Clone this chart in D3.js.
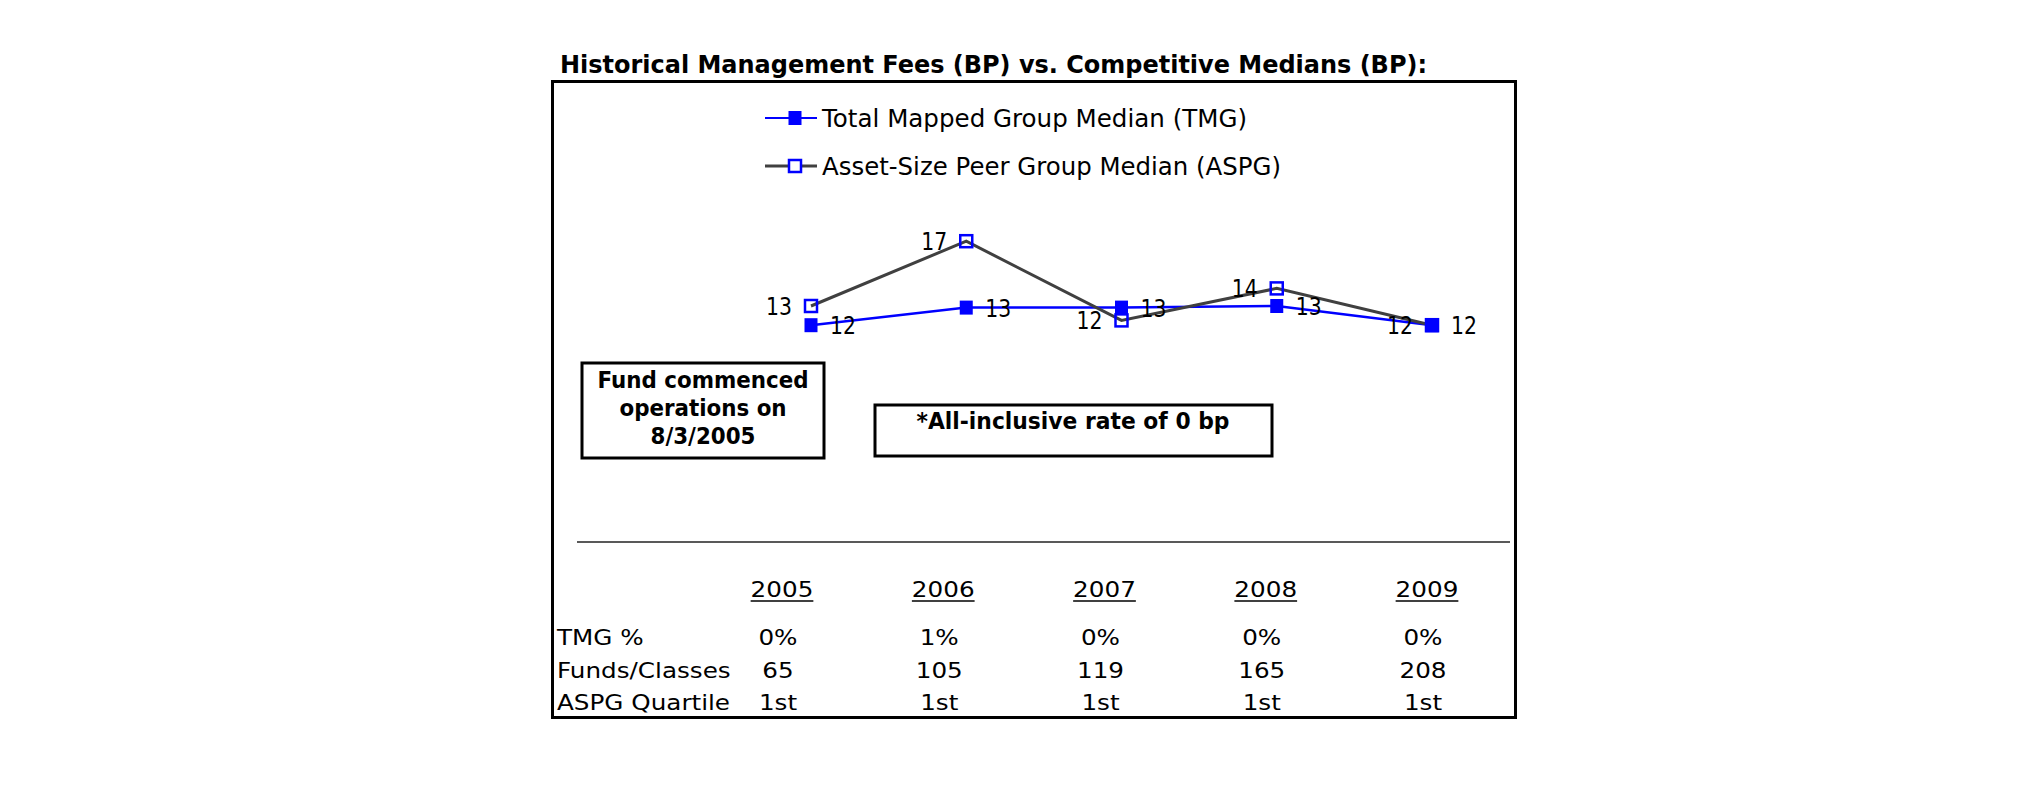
<!DOCTYPE html>
<html><head><meta charset="utf-8">
<script src="https://cdn.jsdelivr.net/npm/d3@7"></script>
<style>body{margin:0;background:#fff} svg{display:block}</style>
</head><body><svg id="c" width="2025" height="806"></svg>
<script>
const years = ["2005","2006","2007","2008","2009"];
const tmgValues = [11.8, 12.9, 12.9, 13.0, 11.8];
const aspgValues = [13.0, 17.05, 12.1, 14.1, 11.8];
const tmgPct = ["0%","1%","0%","0%","0%"];
const fundsClasses = ["65","105","119","165","208"];
const aspgQuartile = ["1st","1st","1st","1st","1st"];
const rowLabels = ["TMG %","Funds/Classes","ASPG Quartile"];
const seriesNames = ["Total Mapped Group Median (TMG)","Asset-Size Peer Group Median (ASPG)"];
const titleText = "Historical Management Fees (BP) vs. Competitive Medians (BP):";
const noteLines = ["Fund commenced","operations on","8/3/2005"];
const rateNote = "*All-inclusive rate of 0 bp";

const FONT = "'DejaVu Sans', Verdana, sans-serif";
const BLUE = "#0000ff", GREY = "#404040";
const svg = d3.select("#c");

function txt(x, y, s, size, weight, k, anchor) {
  const t = svg.append("text").attr("x", x).attr("y", y)
    .attr("font-family", FONT).attr("font-size", size)
    .attr("font-weight", weight || "normal").attr("fill", "#000").text(s);
  const n = t.node().getComputedTextLength();
  const w = n * (k || 1);
  if (k && k !== 1) t.attr("textLength", w).attr("lengthAdjust", "spacingAndGlyphs");
  if (anchor === "middle") t.attr("x", x - w / 2);
  else if (anchor === "end") t.attr("x", x - w);
  return { node: t, w: w, n: n };
}
function fitK(s, size, weight, target) {
  const t = svg.append("text").attr("font-family", FONT).attr("font-size", size)
    .attr("font-weight", weight).text(s);
  const n = t.node().getComputedTextLength(); t.remove();
  return target / n;
}

// title
txt(560, 73, titleText, 24, "bold", fitK(titleText, 24, "bold", 867), "start");

// outer box
svg.append("rect").attr("x", 552.5).attr("y", 81.5).attr("width", 963).attr("height", 636)
  .attr("fill", "none").attr("stroke", "#000").attr("stroke-width", 3);

// scales
const x = d3.scalePoint().domain(years).range([811, 1432]);
const y = d3.scaleLinear().domain([0, 20]).range([514, 194]);
const xt = d3.scalePoint().domain(years).range([780, 1425]);

// legend
const legY = [118, 166];
const legW = [425, 459];
[0, 1].forEach(i => {
  svg.append("line").attr("x1", 765).attr("x2", 817).attr("y1", legY[i]).attr("y2", legY[i])
    .attr("stroke", i === 0 ? BLUE : GREY).attr("stroke-width", i === 0 ? 2 : 3);
  if (i === 0) svg.append("rect").attr("x", 795 - 6.5).attr("y", legY[i] - 7).attr("width", 13).attr("height", 14).attr("fill", BLUE);
  else svg.append("rect").attr("x", 795 - 6).attr("y", legY[i] - 6).attr("width", 12).attr("height", 12)
    .attr("fill", "#fff").attr("stroke", BLUE).attr("stroke-width", 2.5);
  txt(822, legY[i] + 9, seriesNames[i], 24, "normal", fitK(seriesNames[i], 24, "normal", legW[i]), "start");
});

// lines
const line = d3.line().x((d, i) => x(years[i])).y(d => y(d));
svg.append("path").datum(tmgValues).attr("d", line).attr("fill", "none")
  .attr("stroke", BLUE).attr("stroke-width", 2.5);
svg.append("path").datum(aspgValues).attr("d", line).attr("fill", "none")
  .attr("stroke", GREY).attr("stroke-width", 3);

// markers
svg.selectAll(".mt").data(tmgValues).enter().append("rect")
  .attr("x", (d, i) => x(years[i]) - 6.5).attr("y", d => y(d) - 7)
  .attr("width", 13).attr("height", 14).attr("fill", BLUE);
svg.selectAll(".ma").data(aspgValues).enter().append("rect")
  .attr("x", (d, i) => x(years[i]) - 6).attr("y", d => y(d) - 6)
  .attr("width", 12).attr("height", 12).attr("fill", "none")
  .attr("stroke", BLUE).attr("stroke-width", 2.5);

// data labels
const fmt = d3.format(".0f");
const LK = 0.85;
tmgValues.forEach((d, i) => txt(x(years[i]) + 19, y(d) + 9, fmt(d), 24, "normal", LK, "start"));
aspgValues.forEach((d, i) => txt(x(years[i]) - 19, y(d) + 9, fmt(d), 24, "normal", LK, "end"));

// annotation boxes
svg.append("rect").attr("x", 582).attr("y", 363).attr("width", 242).attr("height", 95)
  .attr("fill", "#fff").attr("stroke", "#000").attr("stroke-width", 3);
const nk = fitK(noteLines[0], 23, "bold", 211);
const noteY = [388, 416, 444];
noteLines.forEach((s, i) => txt(703, noteY[i], s, 23, "bold", nk, "middle"));

svg.append("rect").attr("x", 875).attr("y", 405).attr("width", 397).attr("height", 51)
  .attr("fill", "#fff").attr("stroke", "#000").attr("stroke-width", 3);
txt(1073, 429, rateNote, 23, "bold", fitK(rateNote, 23, "bold", 313), "middle");

// separator line
svg.append("line").attr("x1", 577).attr("x2", 1510).attr("y1", 542).attr("y2", 542)
  .attr("stroke", "#222").attr("stroke-width", 1.5);

// table
const TK = 1.12;
years.forEach(yr => {
  const r = txt(xt(yr) + 2, 597, yr, 22, "normal", TK, "middle");
  svg.append("line").attr("x1", xt(yr) + 2 - r.w / 2).attr("x2", xt(yr) + 2 + r.w / 2)
    .attr("y1", 601).attr("y2", 601).attr("stroke", "#000").attr("stroke-width", 1.5);
});
const rowsY = [645, 678, 710];
rowLabels.forEach((s, i) => txt(557, rowsY[i], s, 22, "normal", TK, "start"));
[tmgPct, fundsClasses, aspgQuartile].forEach((arr, r) => {
  arr.forEach((s, i) => txt(xt(years[i]) - 2, rowsY[r], s, 22, "normal", TK, "middle"));
});
</script></body></html>
